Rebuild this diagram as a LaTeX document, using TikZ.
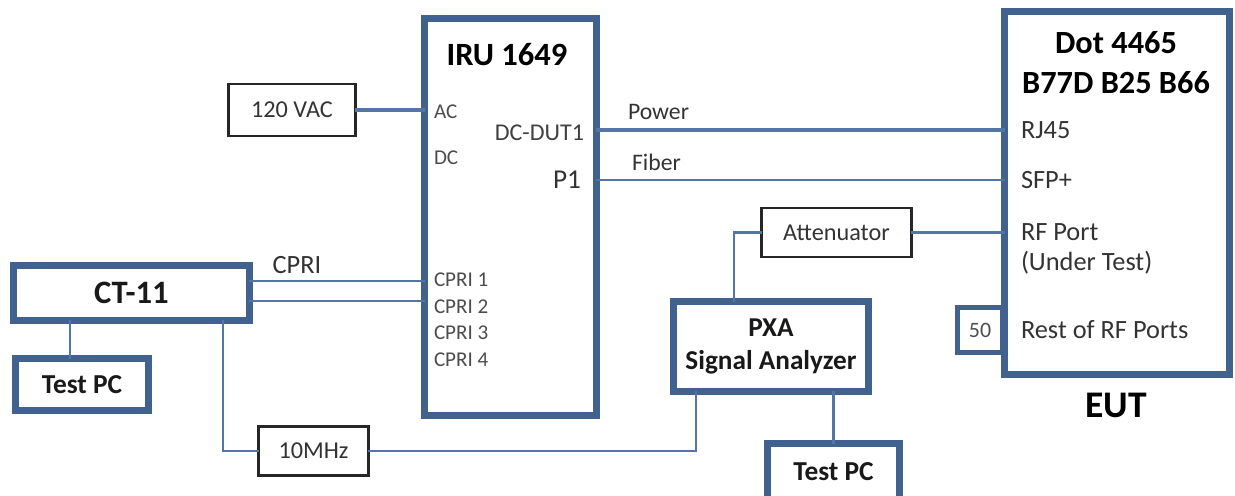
\documentclass[tikz,border=0pt]{standalone}
\usepackage{fontspec}
\setmainfont{Carlito}
\usetikzlibrary{calc}
\definecolor{boxblue}{RGB}{65,97,142}
\definecolor{lineblue}{RGB}{84,117,168}

\begin{document}
\begin{tikzpicture}[x=0.02cm, y=-0.02cm, outer sep=0pt,
    unit/.style={draw=boxblue, line width=3.8pt, inner sep=0pt, text=black!90},
    plain/.style={draw=black!85, line width=1.2pt, inner sep=0pt, text=black!80,
      font=\fontsize{13.8}{16}\selectfont},
    link/.style={draw=lineblue, line width=1.2pt},
    port/.style={inner sep=0pt, anchor=west, text=black!70, font=\fontsize{12}{14}\selectfont},
    eutport/.style={inner sep=0pt, anchor=west, text=black!80, font=\fontsize{15}{18}\selectfont},
    wire/.style={inner sep=0pt, anchor=west, text=black!80, font=\fontsize{13.5}{16}\selectfont}]

\clip (0,0) rectangle (1235,496);

% boxes
\node[plain, minimum width=2.54cm, minimum height=1.04cm] at (292, 110) (VAC_120) {120 VAC};
\node[unit, minimum width=3.44cm, minimum height=7.94cm] at (510.5, 217) (IRU) {};
\node[unit, minimum width=4.5cm, minimum height=7.26cm] at (1117, 193) (EUT) {};
\node[unit, minimum width=4.72cm, minimum height=1.1cm,
  font=\bfseries\fontsize{18.6}{22}\selectfont] at (131.5, 293) (CT_11) {CT-11};
\node[unit, minimum width=2.66cm, minimum height=1.04cm,
  font=\bfseries\fontsize{15.6}{18}\selectfont] at (82, 384.5) (TEST_PC_1) {Test PC};
\node[unit, minimum width=3.9cm, minimum height=1.8cm, align=center,
  font=\bfseries\fontsize{15.5}{18.7}\selectfont] at (771, 346.5) (PXA) {PXA\\Signal Analyzer};
\node[unit, minimum width=2.64cm, minimum height=1.14cm,
  font=\bfseries\fontsize{15.6}{18}\selectfont] at (833.5, 472) (TEST_PC_2) {Test PC};
\node[plain, minimum width=3cm, minimum height=0.98cm] at (836.5, 232.5) (ATT) {Attenuator};
\node[plain, minimum width=2.2cm, minimum height=0.98cm] at (313.5, 451) (MHZ_10) {10MHz};
\node[unit, line width=2.8pt, minimum width=0.9cm, minimum height=0.9cm, text=black!70,
  font=\fontsize{12.5}{14}\selectfont] at (980, 330) (FIFTY) {50};

% IRU labels
\node[inner sep=0pt, font=\bfseries\fontsize{18.5}{22}\selectfont] at (507, 55) (IRU_TITLE) {IRU 1649};
\node[port] at (434, 112) (AC) {AC};
\node[port] at (434, 158) (DC) {DC};
\node[inner sep=0pt, anchor=east, text=black!75, font=\fontsize{13.7}{16}\selectfont] at (584, 133) (DC_DUT1) {DC-DUT1};
\node[inner sep=0pt, anchor=east, text=black!80, font=\fontsize{15.5}{18}\selectfont] at (581, 180) (P1) {P1};
\node[port] at (434, 280) (CPRI_1) {CPRI 1};
\node[port] at (434, 307) (CPRI_2) {CPRI 2};
\node[port] at (434, 333) (CPRI_3) {CPRI 3};
\node[port] at (434, 360) (CPRI_4) {CPRI 4};

% EUT labels
\node[inner sep=0pt, align=center, font=\bfseries\fontsize{18.4}{22.7}\selectfont] at (1116, 63) (EUT_TITLE) {Dot 4465\\B77D B25 B66};
\node[eutport] at (1021, 130) (RJ45) {RJ45};
\node[eutport] at (1021, 180) (SFP) {SFP+};
\node[eutport] at (1021, 232) (RF_PORT) {RF Port};
\node[eutport] at (1021, 263) (UNDER_TEST) {(Under Test)};
\node[eutport] at (1021, 330) (REST) {Rest of RF Ports};
\node[inner sep=0pt, font=\bfseries\fontsize{21.4}{25}\selectfont] at (1116, 405) (EUT_LABEL) {EUT};

% wire labels
\node[wire] at (628, 112) (POWER) {Power};
\node[wire] at (632, 162) (FIBER) {Fiber};
\node[inner sep=0pt, text=black!80, font=\fontsize{15}{18}\selectfont] at (297, 265) (CPRI) {CPRI};

% connections
\draw[link, line width=1.8pt] (VAC_120.east) -- (VAC_120.east -| IRU.west);
\draw[link, line width=1.8pt] (IRU.east |- RJ45) -- (RJ45 -| EUT.west);
\draw[link] (IRU.east |- SFP) -- (SFP -| EUT.west);
\coordinate (CPRI_A) at ($(CT_11.east)+(0,-12)$);
\coordinate (CPRI_B) at ($(CT_11.east)+(0,8)$);
\draw[link] (CPRI_A) -- (CPRI_A -| IRU.west);
\draw[link] (CPRI_B) -- (CPRI_B -| IRU.west);
\coordinate (PC1_TOP) at ($(TEST_PC_1.north)+(-12,0)$);
\draw[link] (PC1_TOP |- CT_11.south) -- (PC1_TOP);
\coordinate (CT_CLK) at ($(CT_11.south)+(91.5,0)$);
\draw[link] (CT_CLK) |- (MHZ_10.west);
\coordinate (PXA_CLK) at ($(PXA.south)+(-75,0)$);
\draw[link] (MHZ_10.east) -| (PXA_CLK);
\coordinate (PXA_RF) at ($(PXA.north)+(-37,0)$);
\draw[link] (PXA_RF) |- (ATT.west);
\draw[link, line width=1.6pt] (ATT.east) -- (ATT.east -| EUT.west);
\draw[link] (TEST_PC_2.north |- PXA.south) -- (TEST_PC_2.north);

\end{tikzpicture}
\end{document}
